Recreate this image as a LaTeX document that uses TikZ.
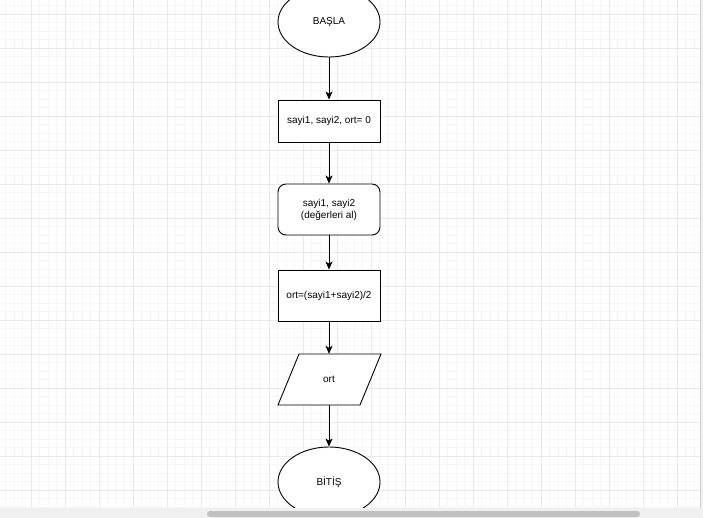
\documentclass[tikz,border=0pt]{standalone}
\usepackage{fontspec}
\setmainfont{Liberation Sans}
\usetikzlibrary{arrows.meta,shapes.geometric}
\definecolor{minorgrid}{HTML}{F6F6F6}
\definecolor{majorgrid}{HTML}{E9E9E9}
\definecolor{barbg}{HTML}{F0F0F0}
\definecolor{thumb}{HTML}{C1C1C1}
\tikzset{
  shp/.style={draw=black, line width=0.9pt, fill=white, font=\fontsize{10}{12}\selectfont, align=center, inner sep=0pt},
  proc/.style={shp, rectangle, minimum width=102pt, minimum height=42pt},
  term/.style={shp, ellipse, minimum width=102pt, minimum height=70pt},
  rnd/.style={shp, rectangle, rounded corners=8pt, minimum width=102pt, minimum height=51pt},
  ghost/.style={rectangle, minimum width=82pt, minimum height=51pt, inner sep=0pt, font=\fontsize{10}{12}\selectfont},
  flow/.style={draw=black, line width=0.9pt, -{Stealth[length=8pt,width=7pt,inset=2pt]}}
}
\begin{document}
\begin{tikzpicture}[x=1pt,y=-1pt]
\useasboundingbox (0,0) rectangle (703,518);
\fill[barbg] (0,0) rectangle (703,518);
\fill[white] (0,0) rectangle (700,507);
\begin{scope}
\clip (0,0) rectangle (700,507);
% minor grid
\foreach \i in {0,...,85} {
  \draw[minorgrid, line width=0.5pt] ({-3+8.5*\i},0) -- ({-3+8.5*\i},507);
}
\foreach \j in {0,...,62} {
  \draw[minorgrid, line width=0.5pt] (0,{-3+8.5*\j}) -- (700,{-3+8.5*\j});
}
% major grid
\foreach \i in {0,...,21} {
  \draw[majorgrid, line width=0.6pt] ({-3+34*\i},0) -- ({-3+34*\i},507);
}
\foreach \j in {0,...,15} {
  \draw[majorgrid, line width=0.6pt] (0,{14+34*\j}) -- (700,{14+34*\j});
}
% shapes
\node[term] (basla) at (329,22) {BAŞLA};
\node[proc] (init) at (329,121) {sayi1, sayi2, ort= 0};
\node[rnd] (input) at (329,209.5) {sayi1, sayi2\\(değerleri al)};
\node[proc, minimum height=51pt] (calc) at (329,295.5) {ort=(sayi1+sayi2)/2};
\draw[shp] (299,354) -- (381,354) -- (360,405) -- (278,405) -- cycle;
\node[ghost] (out) at (329,379.5) {ort};
\node[term] (bitis) at (329,482) {BİTİŞ};
% connectors
\draw[flow] (basla) -- (init);
\draw[flow] (init) -- (input);
\draw[flow] (input) -- (calc);
\draw[flow] (calc) -- (out.north);
\draw[flow] (out.south) -- (bitis);
\end{scope}
\draw[thumb!70!barbg, line width=0.6pt] (700,0) -- (700,507);
\fill[thumb, rounded corners=3pt] (207,511) rectangle (640,517);
\end{tikzpicture}
\end{document}
